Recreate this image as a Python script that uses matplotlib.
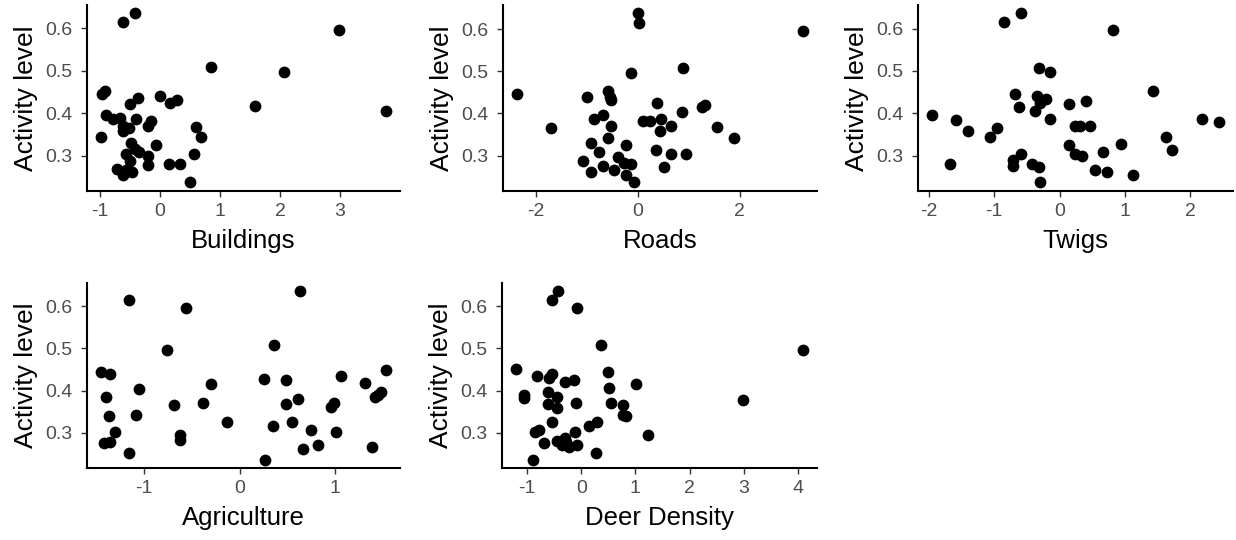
import matplotlib
matplotlib.use("Agg")
import matplotlib.pyplot as plt

plt.rcParams['font.family'] = ['Liberation Sans', 'DejaVu Sans']

# Buildings
bld_x = [-0.61, -0.41, 2.98, 0.85, 2.07, 1.59, 3.76, -0.97, -0.91, -0.37, -0.49, 0.0, 0.17, 0.29,
         -0.90, -0.78, -0.66, -0.39, -0.14, -0.20, -0.61, -0.51, -0.62, 0.61, 0.68, -0.98, -0.48,
         -0.06, -0.42, -0.35, -0.57, 0.57, -0.19, -0.19, 0.16, 0.33, -0.49, -0.71, -0.56, -0.47,
         -0.61, 0.50]
bld_y = [0.615, 0.635, 0.596, 0.508, 0.497, 0.416, 0.406, 0.446, 0.452, 0.436, 0.422, 0.440, 0.424,
         0.430, 0.396, 0.387, 0.388, 0.385, 0.382, 0.370, 0.369, 0.365, 0.358, 0.368, 0.343, 0.343,
         0.329, 0.325, 0.315, 0.309, 0.303, 0.303, 0.298, 0.277, 0.279, 0.279, 0.287, 0.268, 0.266,
         0.262, 0.253, 0.237]

# Roads
rd_x = [0.0, 0.03, 3.24, 0.88, -0.13, -2.37, -1.0, -0.59, -0.55, -0.53, 0.37, 1.27, 1.32, 0.87,
        -0.85, -0.68, 0.11, 0.24, 0.46, 0.43, -0.53, 0.65, 1.55, -1.70, 1.90, -0.59, -0.91, -0.22,
        0.36, -0.75, -0.39, 0.65, 0.94, -1.08, -0.26, -0.13, -0.69, -0.46, -0.91, 0.52, -0.23, -0.07]
rd_y = [0.637, 0.615, 0.596, 0.508, 0.497, 0.445, 0.440, 0.453, 0.438, 0.432, 0.424, 0.416, 0.420,
        0.404, 0.387, 0.396, 0.383, 0.381, 0.386, 0.359, 0.370, 0.370, 0.369, 0.365, 0.343, 0.343,
        0.329, 0.325, 0.313, 0.308, 0.298, 0.303, 0.303, 0.287, 0.282, 0.280, 0.276, 0.266, 0.262,
        0.272, 0.254, 0.237]

# Twigs
tw_x = [-0.85, -0.59, 0.82, -0.31, -0.14, 1.44, -0.68, -0.35, -0.21, -0.30, -0.62, -0.38, 0.15,
        0.41, -0.14, -1.95, -1.58, -1.40, -0.96, -1.07, 0.23, 0.32, 0.46, 2.18, 2.44, 1.64, 1.72,
        0.15, 0.95, 0.66, 0.24, 0.35, -0.59, -0.72, -0.72, -1.68, -0.42, -0.31, 0.54, 0.73, 1.13,
        -0.30]
tw_y = [0.615, 0.636, 0.596, 0.508, 0.497, 0.452, 0.445, 0.440, 0.434, 0.424, 0.416, 0.406, 0.422,
        0.430, 0.386, 0.396, 0.385, 0.359, 0.365, 0.343, 0.370, 0.369, 0.370, 0.387, 0.379, 0.343,
        0.313, 0.324, 0.327, 0.308, 0.303, 0.298, 0.303, 0.290, 0.276, 0.280, 0.280, 0.272, 0.266,
        0.262, 0.253, 0.237]

# Agriculture
ag_x = [-1.16, -0.56, 0.63, -0.76, 0.36, -1.45, -1.36, -1.05, -0.30, 0.25, 0.49, 1.06, 1.31, 1.53,
        -1.40, -0.69, -0.38, 0.61, 0.49, 0.96, 0.99, 1.42, 1.45, 1.48, -1.37, -1.09, -0.13, 0.35,
        0.55, -1.31, -0.63, -0.63, 0.75, 1.01, -1.42, -1.36, 0.82, 0.66, 1.39, -1.16, 0.27]
ag_y = [0.614, 0.596, 0.635, 0.496, 0.508, 0.445, 0.440, 0.405, 0.416, 0.428, 0.425, 0.434, 0.419,
        0.450, 0.385, 0.366, 0.371, 0.380, 0.368, 0.362, 0.371, 0.384, 0.390, 0.397, 0.341, 0.342,
        0.327, 0.316, 0.326, 0.302, 0.296, 0.284, 0.308, 0.302, 0.276, 0.279, 0.272, 0.263, 0.267,
        0.253, 0.237]

# Deer Density
dd_x = [-0.55, -0.43, -0.08, 0.37, 4.09, -1.20, -0.82, -0.55, -0.60, -0.30, -0.14, 0.50, 0.52, 1.02,
        -1.06, -1.06, -0.62, -0.45, -0.62, -0.45, -0.10, 0.55, 0.77, 0.77, 0.83, 2.98, -0.54, 0.29,
        0.15, -0.86, -0.78, -0.11, 1.24, -0.68, -0.45, -0.30, -0.36, -0.23, -0.28, -0.08, 0.28,
        -0.89]
dd_y = [0.614, 0.635, 0.596, 0.508, 0.496, 0.451, 0.435, 0.440, 0.430, 0.420, 0.426, 0.445, 0.406,
        0.416, 0.390, 0.382, 0.397, 0.384, 0.368, 0.359, 0.371, 0.371, 0.367, 0.343, 0.341, 0.378,
        0.327, 0.326, 0.316, 0.302, 0.308, 0.302, 0.296, 0.276, 0.280, 0.288, 0.272, 0.266, 0.279,
        0.272, 0.253, 0.237]

panels = [
    ("Buildings", bld_x, bld_y, [-1, 0, 1, 2, 3]),
    ("Roads", rd_x, rd_y, [-2, 0, 2]),
    ("Twigs", tw_x, tw_y, [-2, -1, 0, 1, 2]),
    ("Agriculture", ag_x, ag_y, [-1, 0, 1]),
    ("Deer Density", dd_x, dd_y, [-1, 0, 1, 2, 3, 4]),
]

W, H = 1236, 540
boxes = [(86.7, 5, 400, 190.7), (502.7, 5, 817, 190.7), (918, 5, 1233, 190.7),
         (87, 283, 400, 468), (502, 283, 817, 468)]

fig = plt.figure(figsize=(W / 100, H / 100), dpi=100)
for (label, xs, ys, xt), (l, t, r, b) in zip(panels, boxes):
    ax = fig.add_axes([l / W, 1 - b / H, (r - l) / W, (b - t) / H])
    ax.scatter(xs, ys, s=72, color='black', linewidths=0)
    ax.margins(x=0.05, y=0.05)
    ax.set_xticks(xt)
    ax.set_yticks([0.3, 0.4, 0.5, 0.6])
    ax.set_yticklabels(["0.3", "0.4", "0.5", "0.6"])
    ax.set_xticklabels([str(v) for v in xt])
    for s in ['top', 'right']:
        ax.spines[s].set_visible(False)
    for s in ['left', 'bottom']:
        ax.spines[s].set_linewidth(1.5)
        ax.spines[s].set_color('black')
    ax.tick_params(axis='both', length=4.3, width=1.0, color='#333333',
                   labelsize=14, labelcolor='#4D4D4D')
    ax.tick_params(axis='x', pad=4.5)
    ax.tick_params(axis='y', pad=6.0)
    ax.set_xlabel(label, fontsize=18.5, color='black', labelpad=6.5)
    ax.set_ylabel("Activity level", fontsize=19, color='black', labelpad=5.5)

fig.savefig("out.png", dpi=100)
